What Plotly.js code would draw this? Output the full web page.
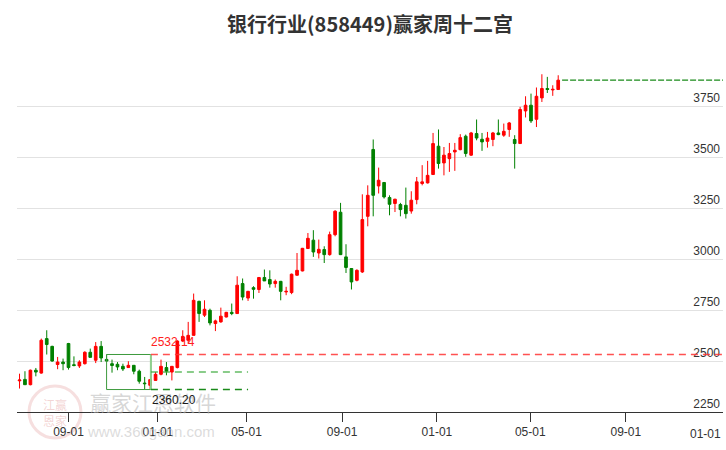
<!DOCTYPE html>
<html>
<head>
<meta charset="utf-8">
<script src="https://cdn.plot.ly/plotly-3.0.1.min.js"></script>
<style>html,body{margin:0;padding:0;background:#fff;}#chart{width:726px;height:450px;}</style>
</head>
<body>
<div id="chart"></div>
<script>
const dates = [
'2023-06-30','2023-07-07','2023-07-14','2023-07-21','2023-07-28','2023-08-04','2023-08-11','2023-08-18','2023-08-25','2023-09-01',
'2023-09-08','2023-09-15','2023-09-22','2023-09-29','2023-10-13','2023-10-20','2023-10-27','2023-11-03','2023-11-10','2023-11-17',
'2023-11-24','2023-12-01','2023-12-08','2023-12-15','2023-12-22','2023-12-29','2024-01-05','2024-01-12','2024-01-19','2024-01-26',
'2024-02-02','2024-02-09','2024-02-23','2024-03-01','2024-03-08','2024-03-15','2024-03-22','2024-03-29','2024-04-05','2024-04-12',
'2024-04-19','2024-04-26','2024-05-03','2024-05-10','2024-05-17','2024-05-24','2024-05-31','2024-06-07','2024-06-14','2024-06-21',
'2024-06-28','2024-07-05','2024-07-12','2024-07-19','2024-07-26','2024-08-02','2024-08-09','2024-08-16','2024-08-23','2024-08-30',
'2024-09-06','2024-09-13','2024-09-20','2024-09-27','2024-10-04','2024-10-11','2024-10-18','2024-10-25','2024-11-01','2024-11-08',
'2024-11-15','2024-11-22','2024-11-29','2024-12-06','2024-12-13','2024-12-20','2024-12-27','2025-01-03','2025-01-10','2025-01-17',
'2025-01-24','2025-01-31','2025-02-07','2025-02-14','2025-02-21','2025-02-28','2025-03-07','2025-03-14','2025-03-21','2025-03-28',
'2025-04-04','2025-04-11','2025-04-18','2025-04-25','2025-05-02','2025-05-09','2025-05-16','2025-05-23','2025-05-30','2025-06-06'
];
const openV = [
2403,2410,2384,2455,2441,2610,2572,2483,2495,2586,
2482,2476,2487,2543,2504,2572,2508,2487,2484,2474,
2468,2479,2450,2392,2381,2405,2435,2468,2446,2468,
2598,2602,2626,2793,2725,2749,2684,2692,2716,2739,
2733,2880,2809,2860,2851,2910,2900,2880,2891,2839,
2836,2921,2942,3052,3093,3030,3047,3022,3120,3230,
3011,2954,2896,2937,3210,3538,3359,3376,3302,3273,
3268,3264,3236,3292,3371,3374,3415,3554,3472,3493,
3526,3537,3603,3510,3616,3588,3578,3587,3619,3608,
3636,3587,3567,3727,3755,3686,3791,3837,3830,3832
];
const highV = [
2438,2450,2458,2466,2610,2651,2575,2520,2512,2589,
2523,2504,2548,2561,2593,2598,2532.14,2507,2495,2487,
2499,2480,2458,2422,2409,2446,2507,2495,2474,2602,
2651,2692,2831,2796,2798,2757,2703,2762,2741,2782,
2916,2905,2844,2867,2912,2949,2945,2900,2893,2864,
2929,3030,3055,3128,3142,3096,3063,3135,3240,3276,
3073,2956,2950,3318,3362,3587,3449,3378,3313,3296,
3276,3351,3333,3403,3461,3482,3619,3636,3550,3570,
3570,3613,3611,3624,3685,3619,3624,3624,3685,3665,
3673,3608,3747,3799,3812,3842,3907,3894,3853,3902
];
const lowV = [
2365,2384,2381,2425,2438,2532,2497,2460,2455,2458,
2474,2466,2483,2518,2490,2495,2495,2443,2455,2451,
2468,2435,2389,2360.20,2362,2405,2430,2430,2405,2464,
2593,2586,2626,2692,2716,2675,2647,2688,2714,2725,
2731,2798,2795,2806,2834,2893,2860,2860,2798,2823,
2828,2919,2940,3050,3011,3003,2981,3017,3112,3020,
2932,2851,2891,2932,3161,3210,3322,3297,3215,3231,
3210,3199,3223,3269,3362,3371,3415,3444,3411,3428,
3433,3534,3502,3506,3583,3531,3547,3554,3608,3600,
3600,3444,3565,3695,3668,3648,3771,3815,3801,3832
];
const closeV = [
2407,2384,2455,2446,2602,2581,2500,2495,2487,2468,
2478,2495,2543,2518,2572,2515,2500,2478,2471,2461,
2479,2450,2401,2389,2409,2435,2474,2450,2474,2598,
2621,2626,2798,2733,2754,2687,2697,2720,2739,2733,
2872,2814,2842,2852,2910,2893,2878,2891,2842,2842,
2926,2945,3053,3102,3035,3048,3022,3120,3235,3022,
2959,2888,2945,3194,3313,3313,3387,3305,3269,3294,
3243,3223,3289,3379,3379,3411,3567,3469,3510,3518,
3534,3596,3518,3619,3594,3575,3594,3619,3611,3627,
3668,3567,3734,3755,3678,3799,3837,3832,3833,3878
];
const yTicks = [2250,2500,2750,3000,3250,3500,3750];
const xTickVals = ['2023-09-01','2024-01-01','2024-05-01','2024-09-01','2025-01-01','2025-05-01','2025-09-01','2026-01-01'];
const xTickText = ['09-01','01-01','05-01','09-01','01-01','05-01','09-01',''];
const holidayWeeks = ['2023-10-02','2024-02-12'];
const boxStart = '2023-10-27', boxEnd = '2023-12-23', levelEnd = '2024-05-03';
const boxHigh = 2532.14, boxLow = 2360.20;
const boxMid = (boxHigh + boxLow) / 2;
const xStart = '2023-06-26 18:00', xEnd = '2026-01-04';
const lastClose = closeV[closeV.length - 1];
const lastLineStart = '2025-06-11';

const trace = {
  type: 'candlestick', x: dates, open: openV, high: highV, low: lowV, close: closeV,
  increasing: {line: {color: '#ff0000', width: 1}, fillcolor: '#ff0000'},
  decreasing: {line: {color: '#008000', width: 1}, fillcolor: '#008000'},
  whiskerwidth: 0, hoverinfo: 'skip', showlegend: false
};

const px = (p) => (p - 17) / 706;
const py = (p) => (412 - p) / 372;

const layout = {
  width: 726, height: 450,
  margin: {l: 17, r: 3, t: 40, b: 38},
  paper_bgcolor: '#ffffff', plot_bgcolor: '#ffffff',
  showlegend: false,
  title: {text: '银行行业(858449)赢家周十二宫', x: 0.5, xref: 'paper', y: 1 - 25/450, yanchor: 'middle',
          font: {family: 'Noto Sans CJK SC', size: 20, color: '#333333', weight: 'bold'}},
  font: {family: 'Arial, Liberation Sans, sans-serif', color: '#333333', size: 12},
  xaxis: {
    type: 'date', range: [xStart, xEnd],
    rangebreaks: [{values: holidayWeeks, dvalue: 7 * 86400000}],
    rangeslider: {visible: false},
    tickmode: 'array', tickvals: xTickVals, ticktext: xTickText,
    ticks: 'outside', ticklen: 9, tickcolor: '#333333', tickwidth: 1,
    showline: true, linecolor: '#333333', linewidth: 1,
    showgrid: false, zeroline: false,
    tickfont: {size: 12, color: '#333333'}, fixedrange: true
  },
  yaxis: {
    side: 'right', range: [2250, 4075],
    tickmode: 'array', tickvals: yTicks,
    ticks: '', ticklabelposition: 'inside top',
    showgrid: true, gridcolor: '#e2e2e2', gridwidth: 1,
    zeroline: false, showline: false,
    tickfont: {size: 12, color: '#333333'}, fixedrange: true
  },
  shapes: [
    {type: 'circle', xref: 'paper', yref: 'paper', x0: px(29), x1: px(81), y0: py(438), y1: py(386),
     line: {color: 'rgba(215,110,110,0.22)', width: 3}, layer: 'below'},
    {type: 'rect', xref: 'x', yref: 'y', x0: boxStart, x1: boxEnd, y0: boxLow, y1: boxHigh,
     line: {color: '#3d9a3d', width: 1}},
    {type: 'line', xref: 'x', yref: 'y', x0: boxEnd, x1: boxEnd, y0: boxLow, y1: boxHigh,
     line: {color: '#8fd08f', width: 2}},
    {type: 'line', xref: 'x', yref: 'y', x0: boxEnd, x1: xEnd, y0: boxHigh, y1: boxHigh,
     line: {color: 'rgba(255,50,50,0.85)', width: 1.5, dash: '7px,5px'}},
    {type: 'line', xref: 'x', yref: 'y', x0: boxEnd, x1: levelEnd, y0: boxMid, y1: boxMid,
     line: {color: 'rgba(60,170,60,0.8)', width: 1.5, dash: '7px,5px'}},
    {type: 'line', xref: 'x', yref: 'y', x0: boxEnd, x1: levelEnd, y0: boxLow, y1: boxLow,
     line: {color: '#1a8a1a', width: 1.5, dash: '7px,5px'}},
    {type: 'line', xref: 'x', yref: 'y', x0: lastLineStart, x1: xEnd, y0: lastClose, y1: lastClose,
     line: {color: '#1a8a1a', width: 1.2, dash: '6px,2px'}}
  ],
  annotations: [
    {xref: 'paper', yref: 'paper', x: px(55), y: py(412), xanchor: 'center', yanchor: 'middle',
     text: '江赢<br>恩家', showarrow: false,
     font: {family: 'Noto Sans CJK SC', size: 12, color: 'rgba(215,110,110,0.3)'}},
    {xref: 'paper', yref: 'paper', x: px(152.5), y: py(402), xanchor: 'center', yanchor: 'middle',
     text: '赢家江恩软件', showarrow: false,
     font: {family: 'Noto Sans CJK SC', size: 21, color: 'rgba(180,180,180,0.55)'}},
    {xref: 'paper', yref: 'paper', x: px(150.5), y: py(431), xanchor: 'center', yanchor: 'middle',
     text: 'www.360gann.com', showarrow: false,
     font: {family: 'Arial, Liberation Sans', size: 15, color: 'rgba(190,190,190,0.55)'}},
    {xref: 'x', yref: 'y', x: boxEnd, y: boxHigh, text: boxHigh.toFixed(2), showarrow: false,
     xanchor: 'left', yanchor: 'bottom', xshift: -2, yshift: 3,
     font: {size: 12, color: '#ff2020'}},
    {xref: 'x', yref: 'y', x: boxEnd, y: boxLow, text: boxLow.toFixed(2), showarrow: false,
     xanchor: 'left', yanchor: 'top', xshift: -1, yshift: -1,
     font: {size: 12, color: '#1a1a1a'}},
    {xref: 'x', yref: 'paper', x: xTickVals[xTickVals.length - 1], y: 0, yshift: -13, text: '01-01', showarrow: false,
     xanchor: 'right', yanchor: 'top', xshift: 2,
     font: {size: 12, color: '#333333'}}
  ]
};

Plotly.newPlot('chart', [trace], layout, {staticPlot: true, displayModeBar: false});
</script>
</body>
</html>
